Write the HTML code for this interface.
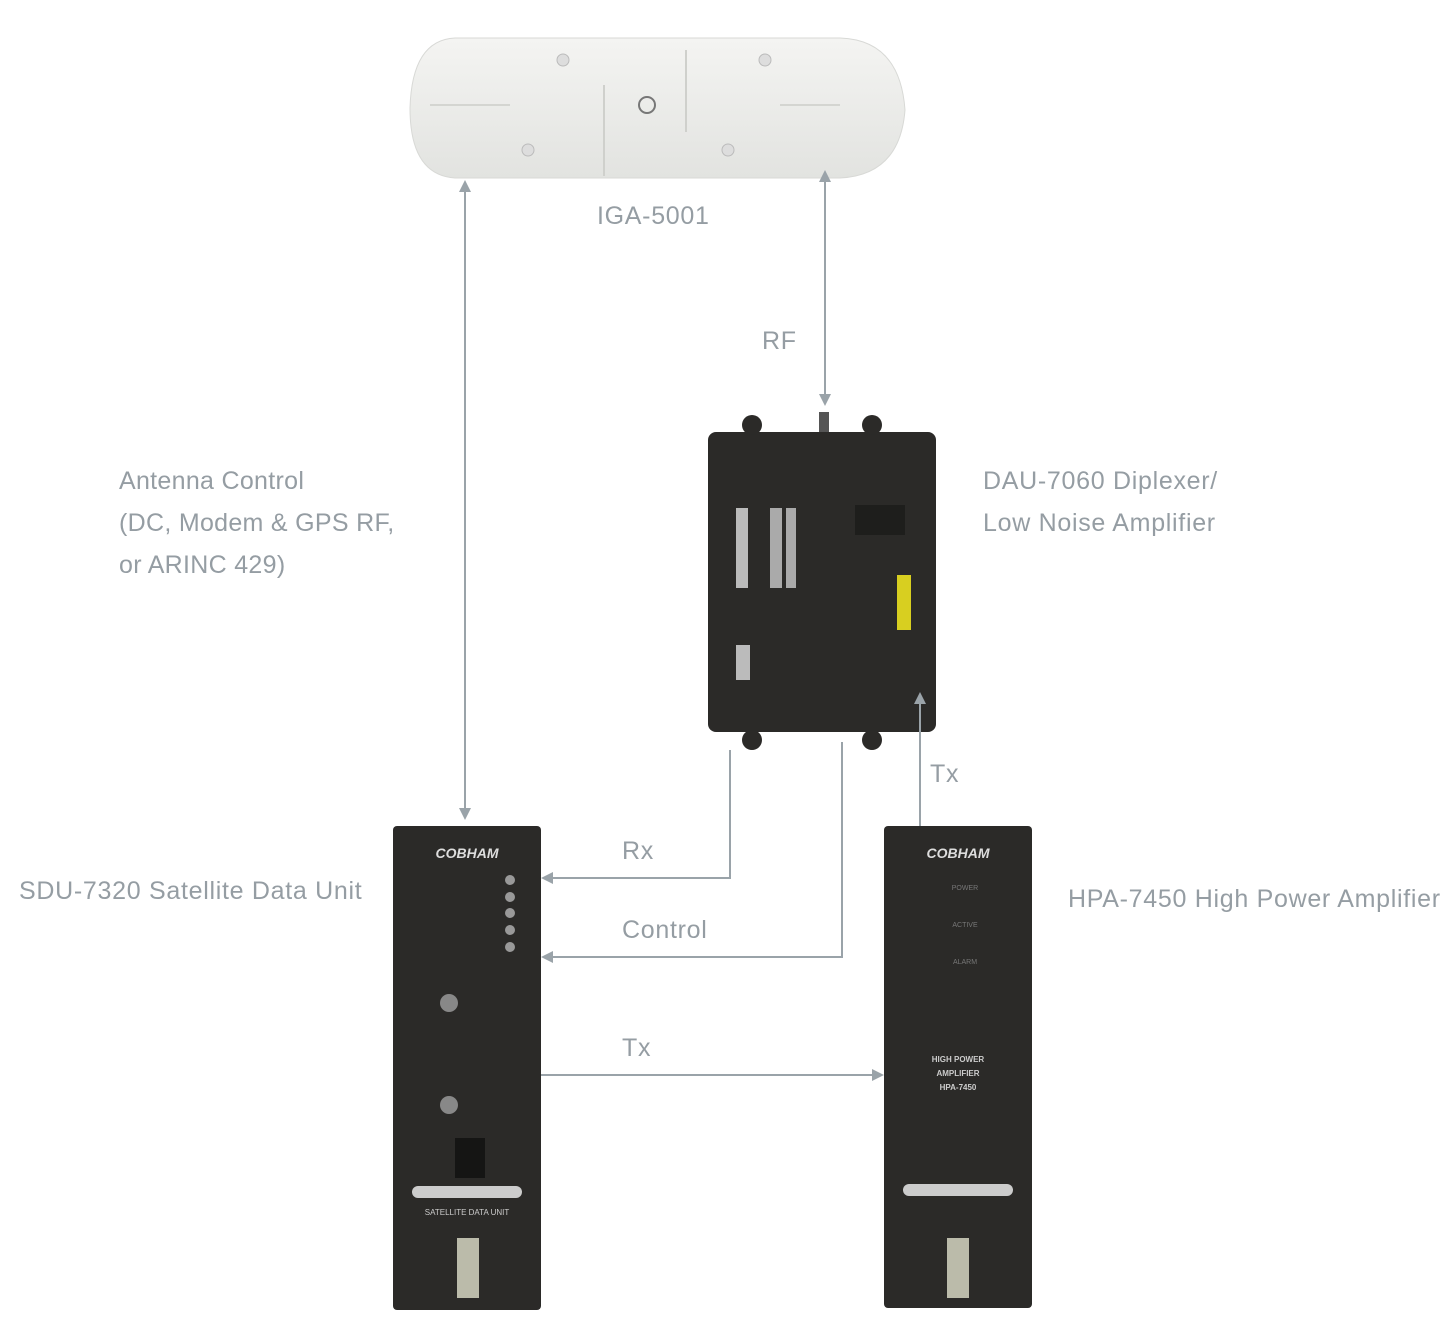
<!DOCTYPE html>
<html><head><meta charset="utf-8"><style>
html,body{margin:0;padding:0;background:#fff;}
body{width:1454px;height:1343px;position:relative;overflow:hidden;font-family:"Liberation Sans",sans-serif;}
.t{position:absolute;color:#959da3;font-size:25px;white-space:nowrap;line-height:42px;letter-spacing:0.7px;}
</style></head><body>
<svg width="1454" height="1343" style="position:absolute;left:0;top:0">
<defs>
<marker id="a" markerWidth="12" markerHeight="12" refX="10" refY="6" orient="auto-start-reverse" markerUnits="userSpaceOnUse">
<path d="M0,0 L12,6 L0,12 Z" fill="#9aa3a9"/></marker>
<linearGradient id="g" x1="0" y1="0" x2="0" y2="1"><stop offset="0" stop-color="#f4f4f2"/><stop offset="1" stop-color="#e2e3e0"/></linearGradient>
</defs>
<path d="M455,38 L840,38 Q900,40 905,110 Q900,175 840,178 L455,178 Q410,175 410,108 Q412,40 455,38 Z" fill="url(#g)" stroke="#d8d9d6"/>
<line x1="604" y1="85" x2="604" y2="176" stroke="#cfd0cc" stroke-width="2"/>
<line x1="686" y1="50" x2="686" y2="132" stroke="#cfd0cc" stroke-width="2"/>
<line x1="430" y1="105" x2="510" y2="105" stroke="#d4d5d1" stroke-width="2"/>
<line x1="780" y1="105" x2="840" y2="105" stroke="#d4d5d1" stroke-width="2"/>
<circle cx="647" cy="105" r="8" fill="none" stroke="#777" stroke-width="2"/>
<circle cx="563" cy="60" r="6" fill="#ddd" stroke="#bbb"/><circle cx="765" cy="60" r="6" fill="#ddd" stroke="#bbb"/>
<circle cx="528" cy="150" r="6" fill="#ddd" stroke="#bbb"/><circle cx="728" cy="150" r="6" fill="#ddd" stroke="#bbb"/>
<rect x="708" y="432" width="228" height="300" rx="8" fill="#2b2a28"/>
<circle cx="752" cy="425" r="10" fill="#2b2a28"/><circle cx="872" cy="425" r="10" fill="#2b2a28"/>
<circle cx="752" cy="740" r="10" fill="#2b2a28"/><circle cx="872" cy="740" r="10" fill="#2b2a28"/>
<rect x="819" y="412" width="10" height="20" fill="#555"/>
<rect x="736" y="508" width="12" height="80" fill="#bbb"/><rect x="770" y="508" width="12" height="80" fill="#aaa"/><rect x="786" y="508" width="10" height="80" fill="#aaa"/>
<rect x="897" y="575" width="14" height="55" fill="#d8cf20"/>
<rect x="736" y="645" width="14" height="35" fill="#bbb"/>
<rect x="855" y="505" width="50" height="30" fill="#1e1e1c"/>
<rect x="393" y="826" width="148" height="484" rx="4" fill="#2b2a28"/>
<text x="467" y="858" fill="#ddd" font-size="14" font-style="italic" font-weight="bold" text-anchor="middle" font-family="Liberation Sans">COBHAM</text>
<g fill="#999"><circle cx="510" cy="880" r="5"/><circle cx="510" cy="897" r="5"/><circle cx="510" cy="913" r="5"/><circle cx="510" cy="930" r="5"/><circle cx="510" cy="947" r="5"/></g>
<circle cx="449" cy="1003" r="9" fill="#888"/><circle cx="449" cy="1105" r="9" fill="#888"/>
<rect x="455" y="1138" width="30" height="40" fill="#151514"/>
<rect x="412" y="1186" width="110" height="12" rx="6" fill="#ccc"/>
<text x="467" y="1215" fill="#ccc" font-size="8" text-anchor="middle" font-family="Liberation Sans">SATELLITE DATA UNIT</text>
<rect x="457" y="1238" width="22" height="60" fill="#bba"/>
<rect x="884" y="826" width="148" height="482" rx="4" fill="#2b2a28"/>
<text x="958" y="858" fill="#ddd" font-size="14" font-style="italic" font-weight="bold" text-anchor="middle" font-family="Liberation Sans">COBHAM</text>
<g fill="#777" font-size="7" text-anchor="middle" font-family="Liberation Sans"><text x="965" y="890">POWER</text><text x="965" y="927">ACTIVE</text><text x="965" y="964">ALARM</text></g>
<g fill="#ccc" font-size="8" font-weight="bold" text-anchor="middle" font-family="Liberation Sans"><text x="958" y="1062">HIGH POWER</text><text x="958" y="1076">AMPLIFIER</text><text x="958" y="1090">HPA-7450</text></g>
<rect x="903" y="1184" width="110" height="12" rx="6" fill="#ccc"/>
<rect x="947" y="1238" width="22" height="60" fill="#bba"/>
<g stroke="#9aa3a9" stroke-width="2" fill="none">
<line x1="465" y1="182" x2="465" y2="818" marker-start="url(#a)" marker-end="url(#a)"/>
<line x1="825" y1="172" x2="825" y2="404" marker-start="url(#a)" marker-end="url(#a)"/>
<polyline points="730,750 730,878 543,878" marker-end="url(#a)"/>
<polyline points="842,742 842,957 543,957" marker-end="url(#a)"/>
<line x1="920" y1="826" x2="920" y2="694" marker-end="url(#a)"/>
<line x1="541" y1="1075" x2="882" y2="1075" marker-end="url(#a)"/>
</g>
</svg>
<div class="t" style="left:597px;top:195px">IGA-5001</div>
<div class="t" style="left:762px;top:320px">RF</div>
<div class="t" style="left:119px;top:460px;letter-spacing:0.3px">Antenna Control<br>(DC, Modem &amp; GPS RF,<br>or ARINC 429)</div>
<div class="t" style="left:983px;top:460px">DAU-7060 Diplexer/<br>Low Noise Amplifier</div>
<div class="t" style="left:19px;top:870px">SDU-7320 Satellite Data Unit</div>
<div class="t" style="left:1068px;top:878px">HPA-7450 High Power Amplifier</div>
<div class="t" style="left:622px;top:830px">Rx</div>
<div class="t" style="left:622px;top:909px">Control</div>
<div class="t" style="left:622px;top:1027px">Tx</div>
<div class="t" style="left:930px;top:753px">Tx</div>
</body></html>
